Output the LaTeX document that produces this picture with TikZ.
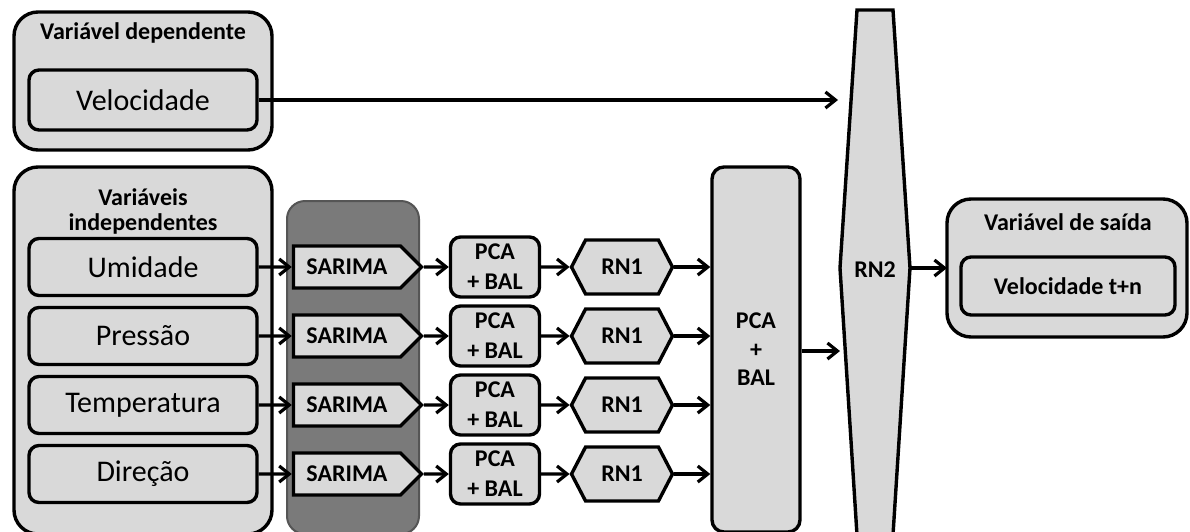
\documentclass[tikz,border=0pt]{standalone}
\usepackage{fontspec}
\setmainfont{Carlito}
\usetikzlibrary{arrows.meta,shapes.symbols,positioning}
\definecolor{cinza}{HTML}{D9D9D9}
\definecolor{coluna}{HTML}{7A7A7A}
\definecolor{colborda}{HTML}{555555}
\tikzset{
	caixa/.style={draw, line width=1.7pt, fill=cinza, rounded corners=5pt, inner sep=1pt},
	grupo/.style={draw, line width=1.7pt, fill=cinza, rounded corners=12pt},
	titulo/.style={font=\bfseries\fontsize{12}{12.5}\selectfont, align=center},
	entrada/.style={minimum width=114pt, minimum height=28.5pt, font=\fontsize{15}{17}\selectfont},
	bloco/.style={minimum width=44.5pt, minimum height=30pt, align=center, font=\bfseries\fontsize{12}{15}\selectfont},
	sarima/.style={draw, line width=1.7pt, fill=cinza, signal, signal to=east, signal pointer angle=90,
		minimum width=64pt, minimum height=21pt, inner sep=1pt, font=\bfseries\fontsize{12}{14}\selectfont},
	rede/.style={draw, line width=1.7pt, fill=cinza, signal, signal to=east and west, signal pointer angle=125,
		minimum width=50.5pt, minimum height=27pt, inner sep=1pt, font=\bfseries\fontsize{12}{14}\selectfont},
	seta/.style={line width=1.6pt, -{Straight Barb[length=5pt,width=8pt,line width=1.6pt]}}
}
\begin{document}
\begin{tikzpicture}[x=0.5pt,y=-0.5pt]
	\clip (0,0) rectangle (1190,531);
	% variavel dependente
	\draw[grupo] (14,12) rectangle (272,150);
	\node[titulo] (tdep) at (143,33) {Variável dependente};
	\node[caixa, entrada, minimum height=30pt] (vel) at (143,100) {Velocidade};
	% variaveis independentes
	\draw[grupo] (14,167) rectangle (272,534);
	\node[titulo] (tind) at (143,211) {Variáveis\\independentes};
	\draw[line width=1pt, draw=colborda, fill=coluna, rounded corners=9pt] (287,201) rectangle (419,534);
	% PCA + BAL geral
	\node[caixa, rounded corners=6pt, minimum width=44pt, minimum height=182.5pt, align=center,
		font=\bfseries\fontsize{12}{14.25}\selectfont] (pcab) at (756,349.5) {PCA\\+\\BAL};
	% RN2
	\draw[line width=1.7pt, fill=cinza] (857,10) -- (893,10) -- (910,268) -- (893,535) -- (857,535) -- (840,268) -- cycle;
	\node[font=\bfseries\fontsize{12}{14}\selectfont] (rn2) at (875,270) {RN2};
	\coordinate (rn2a) at (838,100);
	\coordinate (rn2b) at (840,351);
	\coordinate (rn2c) at (910,268);
	% variavel de saida
	\draw[grupo] (947,199) rectangle (1187,337);
	\node[titulo] (tsai) at (1068,222) {Variável de saída};
	\node[caixa, minimum width=107pt, minimum height=29pt, font=\bfseries\fontsize{12}{14}\selectfont] (velsai) at (1068,286) {Velocidade t+n};
	\coordinate (sai) at (947,268);
	% linhas
	\foreach \y/\nome [count=\i] in {267/Umidade, 336/Pressão, 405/Temperatura, 474/Direção} {
		\node[caixa, entrada] (ent\i) at (143,\y) {\nome};
		\node[sarima] (sar\i) at (347,\y) {SARIMA};
		\node[caixa, bloco] (pca\i) at (495,\y) {PCA\\+ BAL};
		\node[rede] (rn\i) at (622,\y) {RN1};
		\draw[seta] (ent\i) -- (sar\i);
		\draw[seta] (sar\i) -- (pca\i);
		\draw[seta] (pca\i) -- (rn\i);
		\draw[seta] (rn\i) -- (rn\i -| pcab.west);
	};
	\draw[seta] (vel) -- (rn2a);
	\draw[seta] (pcab.east |- rn2b) -- (rn2b);
	\draw[seta] (rn2c) -- (sai);
\end{tikzpicture}
\end{document}
